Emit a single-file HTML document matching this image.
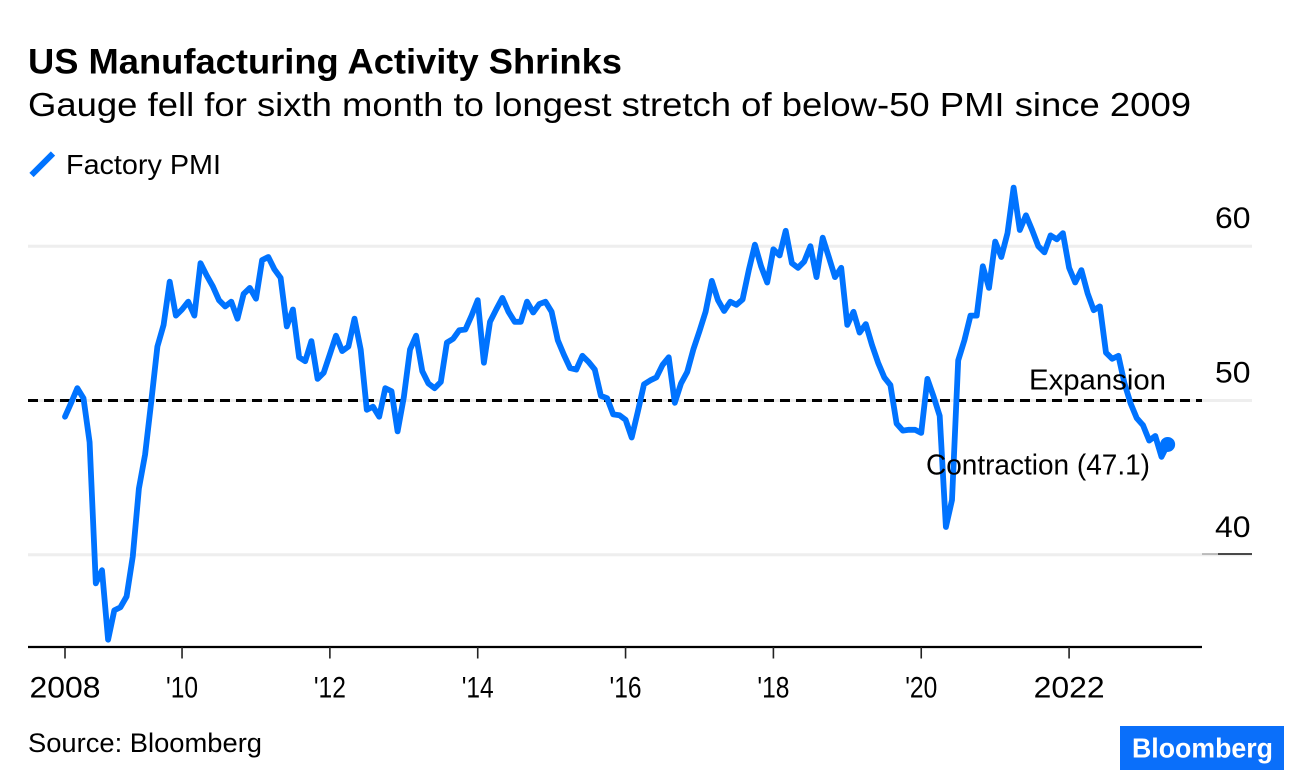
<!DOCTYPE html>
<html lang="en">
<head>
<meta charset="utf-8">
<title>US Manufacturing Activity Shrinks</title>
<style>
html,body{margin:0;padding:0;background:#fff;}
svg{display:block;}
text{font-family:"Liberation Sans",sans-serif;fill:#000;}
</style>
</head>
<body>
<svg id="chart" width="1296" height="782" viewBox="0 0 1296 782" xmlns="http://www.w3.org/2000/svg">
  <rect x="0" y="0" width="1296" height="782" fill="#fff"/>
  <text x="28" y="73.5" font-size="35" font-weight="700" textLength="594" lengthAdjust="spacingAndGlyphs">US Manufacturing Activity Shrinks</text>
  <text x="28" y="116" font-size="33" textLength="1163" lengthAdjust="spacingAndGlyphs">Gauge fell for sixth month to longest stretch of below-50 PMI since 2009</text>
  <line x1="31.5" y1="175" x2="53" y2="153.5" stroke="#0073ff" stroke-width="6"/>
  <text x="66" y="174" font-size="28" textLength="155" lengthAdjust="spacingAndGlyphs">Factory PMI</text>
  <g id="grid"></g>
  <g id="yLabels"></g>
  <line x1="1202" y1="554" x2="1218" y2="554" stroke="#888" stroke-width="1"/>
  <line x1="1218" y1="554" x2="1252" y2="554" stroke="#111" stroke-width="1.6"/>
  <line id="refLine" x1="28" x2="1202" stroke="#000" stroke-width="3" stroke-dasharray="10 6"/>
  <path id="series" fill="none" stroke="#0073ff" stroke-width="5.8" stroke-linejoin="round" stroke-linecap="round"/>
  <circle id="endDot" r="7.5" fill="#0073ff"/>
  <line x1="28" y1="647" x2="1202" y2="647" stroke="#000" stroke-width="2.2"/>
  <g id="xTicks"></g>
  <text x="1029" y="389.5" font-size="29" textLength="137" lengthAdjust="spacingAndGlyphs">Expansion</text>
  <text x="926" y="474.5" font-size="29" textLength="224" lengthAdjust="spacingAndGlyphs">Contraction (47.1)</text>
  <text x="28" y="752" font-size="27" textLength="234" lengthAdjust="spacingAndGlyphs">Source: Bloomberg</text>
  <rect x="1120" y="726" width="164" height="44" fill="#0a6ffa"/>
  <text x="1132" y="757.5" font-size="28" font-weight="700" style="fill:#fff" textLength="141" lengthAdjust="spacingAndGlyphs">Bloomberg</text>
</svg>
<script>
const pmiValues = [
48.95,49.86,50.8,50.14,47.3,38.15,39.0,34.5,36.4,36.6,37.3,39.9,44.3,46.5,49.9,53.5,54.9,57.7,55.5,55.9,
56.4,55.5,58.9,58.1,57.4,56.5,56.1,56.4,55.3,56.9,57.3,56.6,59.1,59.3,58.5,57.95,54.8,55.9,52.8,52.55,
53.85,51.4,51.8,53.0,54.2,53.2,53.5,55.3,53.3,49.4,49.6,48.95,50.8,50.6,48.0,50.2,53.3,54.2,51.9,51.1,
50.8,51.2,53.75,54.0,54.55,54.6,55.5,56.5,52.45,55.1,55.9,56.65,55.75,55.1,55.1,56.4,55.7,56.25,56.4,55.75,
53.9,52.95,52.1,52.0,52.9,52.5,52.0,50.3,50.15,49.1,49.05,48.75,47.6,49.3,51.05,51.3,51.5,52.3,52.8,49.85,
51.1,51.85,53.3,54.5,55.75,57.75,56.5,55.8,56.4,56.2,56.55,58.45,60.1,58.7,57.65,59.8,59.4,61.0,58.9,58.6,
59.0,60.0,58.0,60.55,59.3,58.0,58.6,54.9,55.75,54.4,54.95,53.6,52.45,51.5,51.0,48.5,48.05,48.1,48.1,47.9,
51.4,50.25,49.0,41.8,43.55,52.6,53.9,55.5,55.5,58.7,57.3,60.3,59.3,60.85,63.8,61.05,62.0,61.05,60.0,59.6,
60.7,60.45,60.85,58.6,57.65,58.45,56.95,55.85,56.1,53.1,52.7,52.9,51.1,49.8,48.85,48.4,47.4,47.7,46.35,47.15
];
const xTickMonths = [0,19,43,67,91,115,139,163];
const xTickLabels = ["2008","'10","'12","'14","'16","'18","'20","2022"];
const yTickValues = [60,50,40];
const referenceValue = 50;

const NS = "http://www.w3.org/2000/svg";
function xScale(i){ return 65 + i * 6.16; }
function yScale(v){ return 400.5 - (v - 50) * 15.43; }

let d = "";
pmiValues.forEach(function(v,i){
  d += (i ? "L" : "M") + xScale(i).toFixed(1) + " " + yScale(v).toFixed(1);
});
document.getElementById("series").setAttribute("d", d);

const last = pmiValues.length - 1;
const dot = document.getElementById("endDot");
dot.setAttribute("cx", xScale(last));
dot.setAttribute("cy", yScale(pmiValues[last]));

const ref = document.getElementById("refLine");
ref.setAttribute("y1", yScale(referenceValue));
ref.setAttribute("y2", yScale(referenceValue));

const grid = document.getElementById("grid");
const yLabels = document.getElementById("yLabels");
yTickValues.forEach(function(v){
  const l = document.createElementNS(NS,"line");
  
  
  l.setAttribute("x1",28);
  l.setAttribute("x2",1252);
  l.setAttribute("y1",yScale(v));
  l.setAttribute("y2",yScale(v));
  l.setAttribute("stroke","#eeeeee");
  l.setAttribute("stroke-width",3);
  grid.appendChild(l);
  const t = document.createElementNS(NS,"text");
  
  
  t.setAttribute("x",1215);
  t.setAttribute("y",yScale(v)-18);
  t.setAttribute("font-size",30);
  t.setAttribute("textLength",35.5);
  t.setAttribute("lengthAdjust","spacingAndGlyphs");
  t.textContent = v;
  yLabels.appendChild(t);
});

const xTicks = document.getElementById("xTicks");
xTickMonths.forEach(function(m,i){
  const l = document.createElementNS(NS,"line");
  
  
  l.setAttribute("x1",xScale(m));
  l.setAttribute("x2",xScale(m));
  l.setAttribute("y1",647);
  l.setAttribute("y2",658.5);
  l.setAttribute("stroke","#222");
  l.setAttribute("stroke-width",1.6);
  xTicks.appendChild(l);
  const t = document.createElementNS(NS,"text");
  
  
  t.setAttribute("x",xScale(m));
  t.setAttribute("y",697.5);
  t.setAttribute("text-anchor","middle");
  t.setAttribute("font-size",30);
  t.setAttribute("textLength",xTickLabels[i].length > 3 ? 71 : 32);
  t.setAttribute("lengthAdjust","spacingAndGlyphs");
  t.textContent = xTickLabels[i];
  xTicks.appendChild(t);
});
</script>
</body>
</html>
